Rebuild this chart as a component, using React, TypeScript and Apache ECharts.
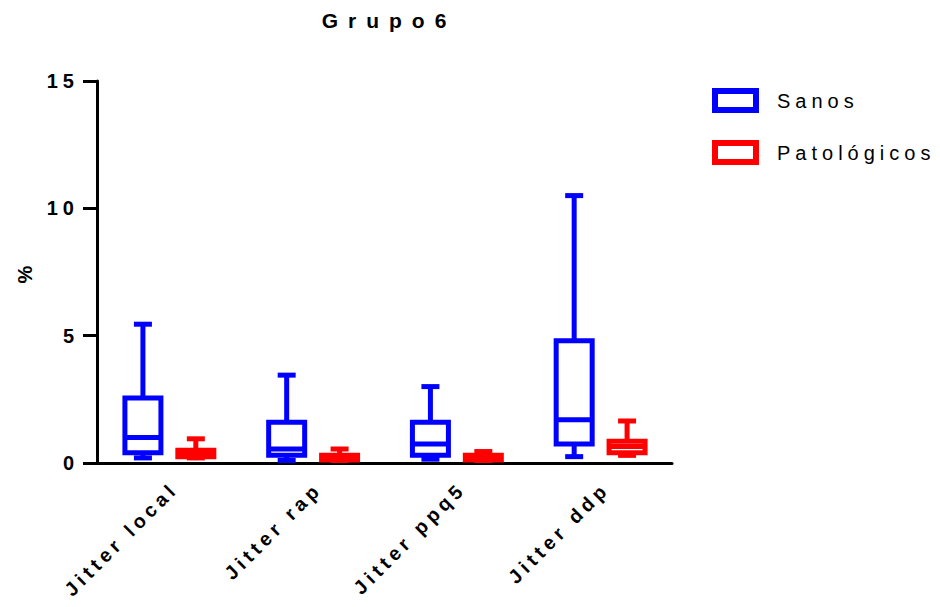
import React, { useEffect, useRef } from "react";
import * as echarts from "echarts";

const categories = ["Jitter local", "Jitter rap", "Jitter ppq5", "Jitter ddp"];
const seriesNames = ["Sanos", "Patológicos"];
const seriesColors = ["#0000ff", "#ff0000"];
// [min, Q1, median, Q3, max]
const sanos = [
  [0.2, 0.4, 1.0, 2.55, 5.45],
  [0.1, 0.3, 0.55, 1.6, 3.45],
  [0.15, 0.3, 0.75, 1.6, 3.0],
  [0.25, 0.75, 1.7, 4.8, 10.5],
];
const patologicos = [
  [0.2, 0.25, 0.35, 0.5, 0.95],
  [0.1, 0.12, 0.2, 0.3, 0.55],
  [0.1, 0.12, 0.2, 0.3, 0.45],
  [0.3, 0.4, 0.65, 0.85, 1.65],
];
const yTicks = [0, 5, 10, 15];

const FONT = 'Arial, "Liberation Sans", Helvetica, sans-serif';

const CSS = `
#chart-root svg text[style*="21px"] { letter-spacing: 10px; }
#chart-root svg text[style*="19.5px"] { letter-spacing: 4.5px; }
#chart-root svg text[style*="20px"] { letter-spacing: 5px; }
`;

function makeRender(offsetFrac: number, color: string) {
  return (params: any, api: any) => {
    const idx = api.value(0);
    const band = api.size([1, 0])[0];
    const cx = api.coord([idx, 0])[0] + offsetFrac * band;
    const y = (v: number) => api.coord([idx, v])[1];
    const vmin = api.value(1), q1 = api.value(2), med = api.value(3), q3 = api.value(4), vmax = api.value(5);
    const lw = 5;
    const half = 18;
    const cap = 9;
    const ls = { stroke: color, lineWidth: lw, lineCap: "butt" };
    return {
      type: "group",
      children: [
        { type: "line", shape: { x1: cx, y1: y(vmax), x2: cx, y2: y(q3) }, style: ls },
        { type: "line", shape: { x1: cx - cap, y1: y(vmax), x2: cx + cap, y2: y(vmax) }, style: ls },
        { type: "line", shape: { x1: cx, y1: y(q1), x2: cx, y2: y(vmin) }, style: ls },
        { type: "line", shape: { x1: cx - cap, y1: y(vmin), x2: cx + cap, y2: y(vmin) }, style: ls },
        {
          type: "rect",
          shape: { x: cx - half, y: y(q3), width: half * 2, height: y(q1) - y(q3) },
          style: { fill: "#ffffff", stroke: color, lineWidth: lw },
        },
        { type: "line", shape: { x1: cx - half, y1: y(med), x2: cx + half, y2: y(med) }, style: ls },
      ],
    };
  };
}

export default function App() {
  const ref = useRef<HTMLDivElement>(null);
  useEffect(() => {
    if (!ref.current) return;
    const chart = echarts.init(ref.current, undefined, { renderer: "svg" });
    const datasets = [sanos, patologicos];
    const offsets = [-26 / 144, 27 / 144];
    chart.setOption({
      animation: false,
      backgroundColor: "#ffffff",
      title: {
        text: "Grupo6",
        left: 384,
        textAlign: "center",
        top: 5,
        textStyle: { fontFamily: FONT, fontSize: 21, fontWeight: "bold", color: "#000" },
      },
      legend: {
        orient: "vertical",
        left: 707,
        top: 83,
        itemWidth: 41,
        itemHeight: 19,
        itemGap: 27,
        icon: "rect",
        textStyle: { fontFamily: FONT, fontSize: 20, color: "#000", padding: [4, 0, 0, 16] },
        data: seriesNames.map((n, i) => ({
          name: n,
          itemStyle: { color: "#ffffff", borderColor: seriesColors[i], borderWidth: 6 },
        })),
      },
      grid: { left: 97, right: 268, top: 81, bottom: 144, containLabel: false },
      xAxis: {
        type: "category",
        data: categories,
        boundaryGap: true,
        axisLine: { lineStyle: { color: "#000", width: 3 } },
        axisTick: { alignWithLabel: true, length: 15, lineStyle: { color: "#000", width: 3 } },
        axisLabel: {
          rotate: 45,
          margin: 28,
          padding: [0, -8, 0, 0],
          interval: 0,
          fontFamily: FONT,
          fontSize: 19.5,
          fontWeight: "bold",
          color: "#000",
        },
        splitLine: { show: false },
      },
      yAxis: {
        type: "value",
        min: 0,
        max: 15,
        interval: 5,
        name: "%",
        nameLocation: "middle",
        nameGap: 62,
        nameRotate: 90,
        nameTextStyle: { fontFamily: FONT, fontSize: 20, fontWeight: "bold", color: "#000" },
        axisLine: { show: true, lineStyle: { color: "#000", width: 3 } },
        axisTick: { show: true, length: 14, lineStyle: { color: "#000", width: 3 } },
        axisLabel: {
          margin: 18,
          fontFamily: FONT,
          fontSize: 20,
          fontWeight: "bold",
          color: "#000",
          formatter: (v: number) => (yTicks.includes(v) ? String(v) : ""),
        },
        splitLine: { show: false },
      },
      series: datasets.map((ds, si) => ({
        name: seriesNames[si],
        type: "custom",
        itemStyle: { color: seriesColors[si] },
        renderItem: makeRender(offsets[si], seriesColors[si]),
        encode: { x: 0, y: [1, 2, 3, 4, 5] },
        data: ds.map((d, i) => [i, ...d]),
        clip: false,
      })),
    });
    return () => chart.dispose();
  }, []);
  return (
    <>
      <style>{CSS}</style>
      <div
        id="chart-root"
        ref={ref}
        style={{ position: "absolute", left: 0, top: 0, width: 940, height: 607 }}
      />
    </>
  );
}
